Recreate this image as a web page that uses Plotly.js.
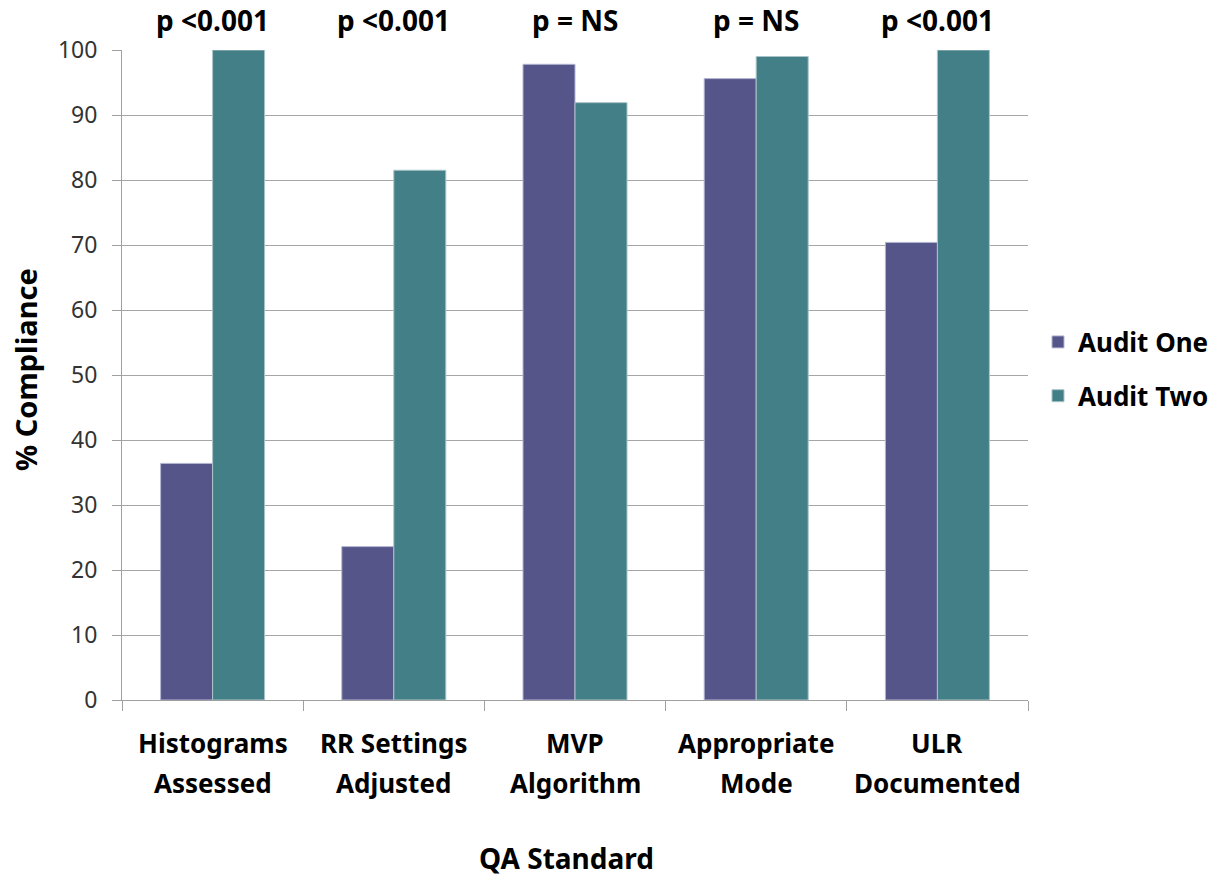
<!DOCTYPE html>
<html>
<head>
<meta charset="utf-8">
<script src="https://cdn.plot.ly/plotly-3.0.1.min.js"></script>
<style>
  html, body { margin: 0; padding: 0; background: #ffffff; }
  #chart { width: 1214px; height: 879px; }
</style>
</head>
<body>
<div id="chart"></div>
<script>
// QA standards audited (label split into two display lines)
const categories = ["Histograms Assessed", "RR Settings Adjusted", "MVP Algorithm", "Appropriate Mode", "ULR Documented"];
const labelLine1 = ["Histograms", "RR Settings", "MVP", "Appropriate", "ULR"];
const labelLine2 = ["Assessed", "Adjusted", "Algorithm", "Mode", "Documented"];

// % compliance per audit
const auditOne = [36.4, 23.6, 97.8, 95.6, 70.4];
const auditTwo = [100, 81.5, 91.9, 99.0, 100];

// significance of change between audits
const pValues = ["p <0.001", "p <0.001", "p = NS", "p = NS", "p <0.001"];

const yTicks = [0, 10, 20, 30, 40, 50, 60, 70, 80, 90, 100];

const FONT = "'Noto Sans', 'Open Sans', sans-serif";

const traces = [
  {
    type: "bar", name: "Audit One", x: categories, y: auditOne,
    legendgroup: "a1",
    marker: { color: "#55558a", line: { color: "#b4b6d2", width: 1 } },
    hoverinfo: "x+y+name"
  },
  {
    type: "bar", name: "Audit Two", x: categories, y: auditTwo,
    legendgroup: "a2",
    marker: { color: "#437f86", line: { color: "#a9c4c9", width: 1 } },
    hoverinfo: "x+y+name"
  }
];

// pixel helpers for annotation placement relative to the plot area
const plotLeft = 122, plotWidth = 906;
const plotTop = 50, plotBottom = 700;
const py = v => (plotBottom - v) / (plotBottom - plotTop);
const px = v => (v - plotLeft) / plotWidth;

const boldFont = size => ({ family: FONT, size: size, color: "#000000", weight: 700 });

const annotations = [];
categories.forEach((c, i) => {
  annotations.push({
    x: c, xref: "x", y: py(20), yref: "paper", text: pValues[i],
    showarrow: false, xanchor: "center", yanchor: "middle",
    font: boldFont(28)
  });
  annotations.push({
    x: c, xref: "x", y: py(743), yref: "paper", text: labelLine1[i],
    showarrow: false, xanchor: "center", yanchor: "middle",
    font: boldFont(26)
  });
  annotations.push({
    x: c, xref: "x", y: py(783), yref: "paper", text: labelLine2[i],
    showarrow: false, xanchor: "center", yanchor: "middle",
    font: boldFont(26)
  });
});
// axis titles
annotations.push({
  x: px(566), xref: "paper", y: py(858), yref: "paper", text: "QA Standard",
  showarrow: false, xanchor: "center", yanchor: "middle",
  font: boldFont(28)
});
annotations.push({
  x: px(25), xref: "paper", y: py(370), yref: "paper", text: "% Compliance",
  showarrow: false, xanchor: "center", yanchor: "middle", textangle: -90,
  font: boldFont(29)
});

const layout = {
  width: 1214, height: 879,
  margin: { l: 122, r: 186, t: 50, b: 179, pad: 0, autoexpand: false },
  paper_bgcolor: "#ffffff", plot_bgcolor: "#ffffff",
  font: { family: FONT, color: "#404040" },
  barmode: "group",
  bargap: 0.426, bargroupgap: 0,
  showlegend: true,
  legend: {
    x: px(1038), xanchor: "left", y: py(369), yanchor: "middle",
    traceorder: "grouped", tracegroupgap: 17,
    font: boldFont(26),
    bgcolor: "rgba(0,0,0,0)", borderwidth: 0
  },
  xaxis: {
    type: "category",
    showticklabels: false,
    showgrid: false, zeroline: false,
    showline: true, linecolor: "#a0a0a0", linewidth: 1,
    ticks: "outside", tickson: "boundaries", ticklen: 10, tickcolor: "#a0a0a0", tickwidth: 1,
    fixedrange: true
  },
  yaxis: {
    range: [0, 100],
    tickvals: yTicks, ticktext: yTicks.map(String),
    showgrid: true, gridcolor: "#a6a6a6", gridwidth: 1,
    zeroline: false,
    showline: true, linecolor: "#a0a0a0", linewidth: 1,
    ticks: "outside", ticklen: 9, tickcolor: "#a0a0a0", tickwidth: 1,
    tickfont: { family: FONT, size: 23, color: "#333333" },
    ticklabelstandoff: 10,
    fixedrange: true
  },
  annotations: annotations
};

Plotly.newPlot("chart", traces, layout, { displayModeBar: false, staticPlot: true });
</script>
</body>
</html>
